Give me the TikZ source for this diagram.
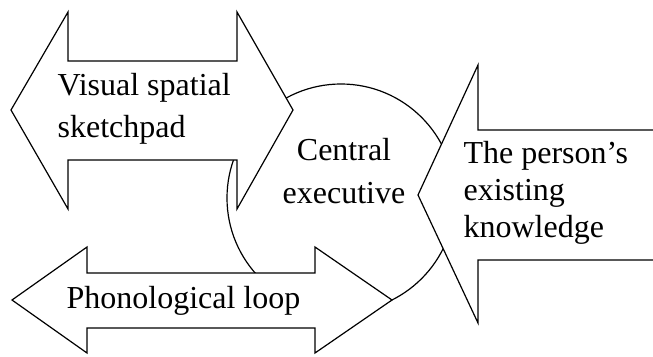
\documentclass[tikz,border=0pt]{standalone}
\usepackage{fontspec}
\setmainfont{Liberation Serif}

\begin{document}
\begin{tikzpicture}[%
    x=1pt, y=-1pt,
    line width=1.2pt,
    blockarrow/.style={draw, fill=white, line join=miter},
    lbl/.style={inner sep=0pt, font=\fontsize{32}{42}\selectfont}
    ]
    \useasboundingbox (0,0) rectangle (653,356);

    % the circle sits below the three arrows
    \node[circle, draw, fill=white, minimum size=228pt, inner sep=0pt] (ce) at (341,198) {};

    % visual spatial sketchpad
    \draw[blockarrow] (11,110) -- (68,12) -- (68,61) -- (237,61) -- (237,12) -- (293,110)
        -- (237,209) -- (237,160) -- (68,160) -- (68,209) -- cycle;
    % phonological loop
    \draw[blockarrow] (12,300) -- (87,247) -- (87,273) -- (315,273) -- (315,247) -- (392,300)
        -- (315,353) -- (315,328) -- (87,328) -- (87,353) -- cycle;
    % existing knowledge, running off the right edge
    \path[fill=white] (660,130) -- (478,130) -- (478,65) -- (418,195) -- (478,323) -- (478,260) -- (660,260) -- cycle;
    \draw (653,130) -- (478,130) -- (478,65) -- (418,195) -- (478,323) -- (478,260) -- (653,260);

    \node[lbl, align=left, anchor=base west] (vss) at (57,137) {Visual spatial\\sketchpad};
    \node[lbl, anchor=base west] (pl) at (66,308) {Phonological loop};
    \node[lbl, align=left, anchor=base west, font=\fontsize{32}{37}\selectfont] (pk) at (463,237) {The person’s\\existing\\knowledge};
    \node[lbl, align=center, anchor=base, font=\fontsize{32}{43}\selectfont] (cel) at (344,203) {Central\\executive};
\end{tikzpicture}
\end{document}
